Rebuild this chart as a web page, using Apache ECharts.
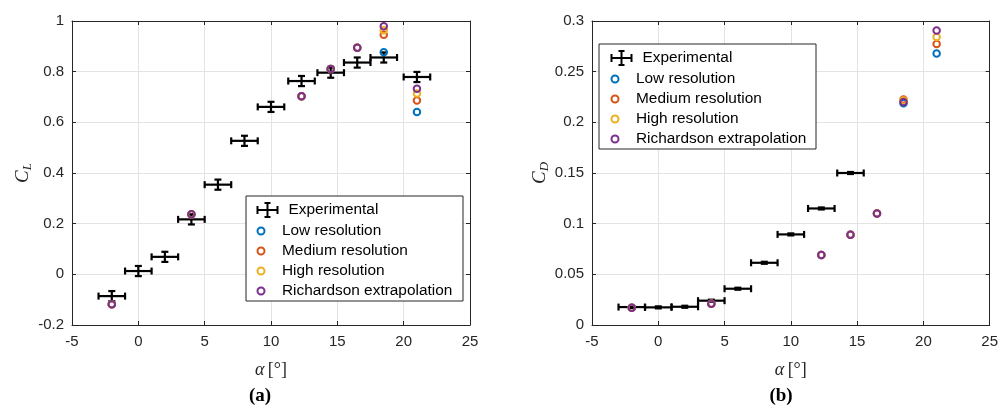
<!DOCTYPE html>
<html>
<head>
<meta charset="utf-8">
<script src="https://cdn.jsdelivr.net/npm/echarts@6/dist/echarts.min.js"></script>
<style>html,body{margin:0;padding:0;background:#fff}#c{width:1001px;height:409px}</style>
</head>
<body>
<div id="c"></div>
<script>
// ---------- data ----------
const xTicks = [-5, 0, 5, 10, 15, 20, 25];
const seriesNames = ['Experimental', 'Low resolution', 'Medium resolution', 'High resolution', 'Richardson extrapolation'];

// (a) lift coefficient
const clExpAlpha = [-2, 0, 2, 4, 6, 8, 10, 12.3, 14.5, 16.5, 18.5, 21];
const clExp      = [-0.086, 0.013, 0.069, 0.217, 0.354, 0.527, 0.661, 0.763, 0.796, 0.836, 0.856, 0.779];
const clExpErrA  = [1, 1, 1, 1, 1, 1, 1, 1, 1, 1, 1, 1];
const clExpErrC  = [0.02, 0.02, 0.02, 0.02, 0.02, 0.02, 0.02, 0.02, 0.02, 0.02, 0.02, 0.02];
const simAlpha   = [-2, 4, 12.3, 14.5, 16.5, 18.5, 21];
const clLow      = [-0.118, 0.237, 0.703, 0.811, 0.894, 0.877, 0.641];
const clMed      = [-0.118, 0.237, 0.703, 0.811, 0.894, 0.946, 0.686];
const clHigh     = [-0.118, 0.237, 0.703, 0.811, 0.894, 0.963, 0.714];
const clRich     = [-0.118, 0.237, 0.703, 0.811, 0.894, 0.979, 0.733];

// (b) drag coefficient
const cdExpAlpha = [-2, 0, 2, 4, 6, 8, 10, 12.3, 14.5];
const cdExp      = [0.0177, 0.0174, 0.018, 0.024, 0.0358, 0.0614, 0.0894, 0.115, 0.150];
const cdExpErrA  = [1, 1, 1, 1, 1, 1, 1, 1, 1];
const cdExpErrC  = [0.001, 0.001, 0.001, 0.001, 0.001, 0.001, 0.001, 0.001, 0.001];
const cdLow      = [0.0171, 0.021, 0.069, 0.089, 0.110, 0.2189, 0.268];
const cdMed      = [0.0171, 0.021, 0.069, 0.089, 0.110, 0.2225, 0.2774];
const cdHigh     = [0.0171, 0.021, 0.069, 0.089, 0.110, 0.2215, 0.2843];
const cdRich     = [0.0171, 0.021, 0.069, 0.089, 0.110, 0.2200, 0.2906];

// ---------- styling ----------
const simColors = ['#0072BD', '#D95319', '#EDB120', '#7E2F8E'];
const axisCol = '#262626';
const sans = 'Liberation Sans, Arial, Helvetica, sans-serif';
const serif = 'Liberation Serif, Times New Roman, serif';

function errRender(params, api) {
  const x = api.value(0), y = api.value(1), ex = api.value(2), ey = api.value(3);
  const l = api.coord([x - ex, y]), r = api.coord([x + ex, y]);
  const t = api.coord([x, y + ey]), b = api.coord([x, y - ey]);
  const c = api.coord([x, y]);
  const cap = 3.5;
  const st = {stroke: '#000', lineWidth: 2.2, fill: null};
  const seg = (x1, y1, x2, y2) => ({type: 'line', shape: {x1, y1, x2, y2}, style: st});
  return {type: 'group', children: [
    seg(l[0], l[1], r[0], r[1]),
    seg(l[0], l[1] - cap, l[0], l[1] + cap),
    seg(r[0], r[1] - cap, r[0], r[1] + cap),
    seg(c[0], t[1], c[0], b[1]),
    seg(c[0] - cap, t[1], c[0] + cap, t[1]),
    seg(c[0] - cap, b[1], c[0] + cap, b[1])
  ]};
}

function mainX(gi, name) {
  return {
    type: 'value', gridIndex: gi, position: 'bottom', min: -5, max: 25, interval: 5,
    name: name, nameLocation: 'middle', nameGap: 36,
    nameTextStyle: {rich: {
      a: {fontFamily: serif, fontStyle: 'italic', fontSize: 18, color: axisCol},
      b: {fontFamily: serif, fontSize: 18, color: axisCol}
    }},
    axisLine: {show: true, onZero: false, lineStyle: {color: axisCol, width: 1}},
    axisTick: {show: true, inside: true, length: 4, lineStyle: {color: axisCol}},
    axisLabel: {fontFamily: sans, fontSize: 15, color: axisCol, margin: 9},
    splitLine: {show: true, lineStyle: {color: '#e3e3e3', width: 1}}
  };
}
function boxX(gi) {
  return {
    type: 'value', gridIndex: gi, position: 'top', min: -5, max: 25, interval: 5,
    axisLine: {show: true, onZero: false, lineStyle: {color: axisCol, width: 1}},
    axisTick: {show: true, inside: true, length: 4, lineStyle: {color: axisCol}},
    axisLabel: {show: false}, splitLine: {show: false}
  };
}
function mainY(gi, min, max, interval, name, nameGap) {
  return {
    type: 'value', gridIndex: gi, position: 'left', min, max, interval,
    name: name, nameLocation: 'middle', nameGap: nameGap, nameRotate: 90,
    nameTextStyle: {rich: {
      c: {fontFamily: serif, fontStyle: 'italic', fontSize: 19, color: axisCol},
      s: {fontFamily: serif, fontStyle: 'italic', fontSize: 13, color: axisCol, padding: [9, 0, 0, 0]}
    }},
    axisLine: {show: true, onZero: false, lineStyle: {color: axisCol, width: 1}},
    axisTick: {show: true, inside: true, length: 4, lineStyle: {color: axisCol}},
    axisLabel: {fontFamily: sans, fontSize: 15, color: axisCol, margin: 8},
    splitLine: {show: true, lineStyle: {color: '#e3e3e3', width: 1}}
  };
}
function boxY(gi, min, max, interval) {
  return {
    type: 'value', gridIndex: gi, position: 'right', min, max, interval,
    axisLine: {show: true, onZero: false, lineStyle: {color: axisCol, width: 1}},
    axisTick: {show: true, inside: true, length: 4, lineStyle: {color: axisCol}},
    axisLabel: {show: false}, splitLine: {show: false}
  };
}

function expSeries(xi, yi, alpha, vals, ea, ec) {
  return {
    name: seriesNames[0], type: 'custom', xAxisIndex: xi, yAxisIndex: yi,
    renderItem: errRender, encode: {x: 0, y: 1}, z: 2,
    itemStyle: {color: '#000'},
    data: alpha.map((a, i) => [a, vals[i], ea[i], ec[i]])
  };
}
function simSeries(k, xi, yi, alpha, vals) {
  return {
    name: seriesNames[k + 1], type: 'scatter', xAxisIndex: xi, yAxisIndex: yi,
    symbol: 'circle', symbolSize: 6.5, z: 3 + k,
    itemStyle: {color: 'rgba(0,0,0,0)', borderColor: simColors[k], borderWidth: 2, opacity: 1},
    data: alpha.map((a, i) => [a, vals[i]])
  };
}

const expIcon = 'path://M0,7L20,7M0,3L0,11M20,3L20,11M10,0L10,14M7,0L13,0M7,14L13,14';
function legends(left, top) {
  const ts = {fontFamily: sans, fontSize: 15.4, color: '#000', lineHeight: 15};
  return [
    {orient: 'vertical', left: left, top: top, padding: 0, itemWidth: 32, itemHeight: 14, itemGap: 5,
     selectedMode: false, textStyle: ts, z: 6,
     data: [{name: seriesNames[0], icon: expIcon,
             itemStyle: {color: 'rgba(0,0,0,0)', borderColor: '#000', borderWidth: 2}}]},
    {orient: 'vertical', left: left, top: top + 21.5, padding: 0, itemWidth: 32, itemHeight: 7, itemGap: 5,
     selectedMode: false, textStyle: ts, z: 6,
     data: seriesNames.slice(1).map((n, k) => ({name: n, icon: 'circle',
             itemStyle: {color: 'rgba(0,0,0,0)', borderColor: simColors[k], borderWidth: 2}}))}
  ];
}

const option = {
  animation: false,
  backgroundColor: '#fff',
  grid: [
    {left: 72, top: 21, width: 398, height: 304},
    {left: 592, top: 21, width: 399.5, height: 304}
  ],
  xAxis: [mainX(0, '{a|α} {b|[°]}'), boxX(0), mainX(1, '{a|α} {b|[°]}'), boxX(1)],
  yAxis: [
    mainY(0, -0.2, 1, 0.2, '{c|C}{s|L}', 31), boxY(0, -0.2, 1, 0.2),
    mainY(1, 0, 0.3, 0.05, '{c|C}{s|D}', 29), boxY(1, 0, 0.3, 0.05)
  ],
  legend: [...legends(256.5, 202), ...legends(610.5, 50)],
  graphic: [
    {type: 'rect', z: 5, shape: {x: 246, y: 196, width: 217, height: 105},
     style: {fill: '#fff', stroke: axisCol, lineWidth: 1}},
    {type: 'rect', z: 5, shape: {x: 599, y: 44, width: 217, height: 105},
     style: {fill: '#fff', stroke: axisCol, lineWidth: 1}},
    {type: 'text', z: 5, x: 260, y: 396, style: {text: '(a)', font: 'bold 19px ' + serif, fill: '#000', textAlign: 'center', textVerticalAlign: 'middle'}},
    {type: 'text', z: 5, x: 781, y: 396, style: {text: '(b)', font: 'bold 19px ' + serif, fill: '#000', textAlign: 'center', textVerticalAlign: 'middle'}}
  ],
  series: [
    expSeries(0, 0, clExpAlpha, clExp, clExpErrA, clExpErrC),
    simSeries(0, 0, 0, simAlpha, clLow),
    simSeries(1, 0, 0, simAlpha, clMed),
    simSeries(2, 0, 0, simAlpha, clHigh),
    simSeries(3, 0, 0, simAlpha, clRich),
    expSeries(2, 2, cdExpAlpha, cdExp, cdExpErrA, cdExpErrC),
    simSeries(0, 2, 2, simAlpha, cdLow),
    simSeries(1, 2, 2, simAlpha, cdMed),
    simSeries(2, 2, 2, simAlpha, cdHigh),
    simSeries(3, 2, 2, simAlpha, cdRich)
  ]
};
const chart = echarts.init(document.getElementById('c'), null, {renderer: 'canvas'});
chart.setOption(option);
</script>
</body>
</html>
